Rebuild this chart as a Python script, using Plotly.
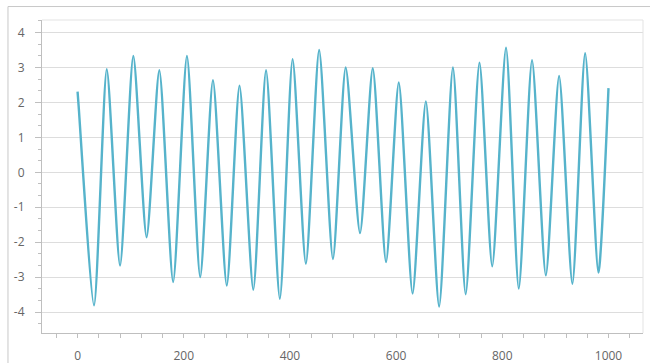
import plotly.graph_objects as go

# Extrema of the waveform (x, y)
x_vals = [0, 2, 31, 55, 80, 105, 130, 154, 180, 206, 231, 255, 281, 305, 331, 355,
          381, 405, 430, 455, 481, 505, 532, 556, 581, 605, 631, 656, 681, 707,
          731, 757, 781, 807, 831, 856, 882, 907, 932, 956, 981, 1000]
y_vals = [2.31, 1.9, -3.81, 2.95, -2.67, 3.33, -1.86, 2.92, -3.14, 3.33, -3.0, 2.64,
          -3.24, 2.48, -3.36, 2.92, -3.62, 3.24, -2.62, 3.5, -2.48, 3.0, -1.74,
          2.98, -2.57, 2.57, -3.47, 2.03, -3.84, 3.0, -3.49, 3.14, -2.69, 3.57,
          -3.33, 3.21, -2.95, 2.76, -3.19, 3.41, -2.87, 2.41]

x_ticks = [0, 200, 400, 600, 800, 1000]
x_tick_text = ["0", "200", "400", "600", "800", "1000"]
y_ticks = [-4, -3, -2, -1, 0, 1, 2, 3, 4]
y_tick_text = ["-4", "-3", "-2", "-1", "0", "1", "2", "3", "4"]

fig = go.Figure()
fig.add_trace(go.Scatter(x=x_vals, y=y_vals, mode="lines",
                         line=dict(color="#56B3CB", width=2.4, shape="spline", smoothing=0.65),
                         showlegend=False))

tickfont = dict(family="Open Sans", size=12, color="#666666")
fig.update_xaxes(range=[-67, 1065], tickvals=x_ticks, ticktext=x_tick_text,
                 showgrid=False, zeroline=False, showline=True, linecolor="#BFBFBF",
                 linewidth=1, ticks="outside", ticklen=4, tickcolor="#BFBFBF",
                 tickfont=tickfont, ticklabelstandoff=8, automargin=False,
                 minor=dict(dtick=40, tick0=0, ticks="outside", ticklen=4,
                            tickcolor="#BFBFBF", showgrid=False),
                 mirror=False)
fig.update_yaxes(range=[-4.6, 4.36], tickvals=y_ticks, ticktext=y_tick_text,
                 showgrid=True, gridcolor="#DDDDDD", gridwidth=1, zeroline=False,
                 showline=True, linecolor="#BFBFBF", linewidth=1,
                 ticks="outside", ticklen=6, tickcolor="#BFBFBF",
                 tickfont=tickfont, ticklabelstandoff=8, automargin=False,
                 minor=dict(dtick=1/3, tick0=0, ticks="outside", ticklen=3,
                            tickcolor="#BFBFBF", showgrid=False))

fig.update_layout(
    width=650, height=363,
    margin=dict(l=42, r=7, t=20, b=30, autoexpand=False),
    paper_bgcolor="white", plot_bgcolor="white",
    shapes=[
        dict(type="line", xref="paper", yref="paper", x0=0, x1=1, y0=1, y1=1,
             line=dict(color="#E3E3E3", width=1)),
        dict(type="line", xref="paper", yref="paper", x0=1, x1=1, y0=0, y1=1,
             line=dict(color="#E3E3E3", width=1)),
        dict(type="line", xref="paper", yref="paper", x0=-0.0566, x1=1.02,
             y0=1.043, y1=1.043, line=dict(color="#C8C8C8", width=1)),
        dict(type="line", xref="paper", yref="paper", x0=-0.0566, x1=-0.0566,
             y0=-0.2, y1=1.043, line=dict(color="#C8C8C8", width=1)),
    ],
)

fig.write_html("out.html", config={"displayModeBar": False},
               post_script="document.body.style.margin='0';document.body.style.overflow='hidden';")
